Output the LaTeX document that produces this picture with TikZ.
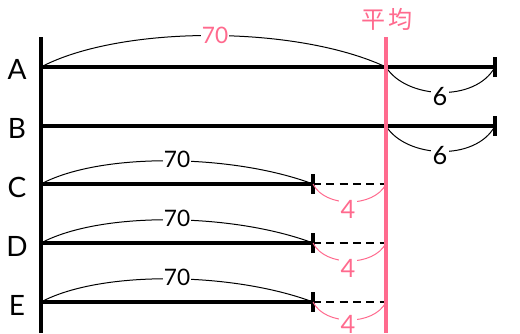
\documentclass[tikz,border=0pt]{standalone}
\usepackage{fontspec}
\setmainfont{Lato}
\newfontfamily\cjk{Noto Sans CJK JP}
\definecolor{avgpink}{HTML}{FF6A8E}
\begin{document}
\begin{tikzpicture}[x=0.75pt,y=-0.75pt,
  bar/.style={line width=2.4pt},
  thin/.style={line width=0.75pt},
  rowlabel/.style={font=\fontsize{21}{21}\selectfont},
  seventy/.style={fill=white,inner sep=1pt,font=\fontsize{17}{17}\selectfont},
  difflabel/.style={fill=white,inner sep=1pt,font=\fontsize{19}{19}\selectfont},
  tick/.style={line width=2.4pt}]
\useasboundingbox (0,0) rectangle (520,333);
% axis and average line
\coordinate (axtop) at (41,37);
\coordinate (axbot) at (41,333);
\coordinate (avtop) at (386,37);
\coordinate (avbot) at (386,333);
\draw[bar] (axtop) -- (axbot);
% row coordinates
\foreach \n/\y in {A/67,B/126,C/184,D/243,E/302}{
  \coordinate (s\n) at (41,\y);
  \coordinate (m\n) at (386,\y);
}
\coordinate (eA) at (495,67);
\coordinate (eB) at (495,126);
\coordinate (eC) at (313,184);
\coordinate (eD) at (313,243);
\coordinate (eE) at (313,302);
% row labels
\node[rowlabel] (lA) at (17,69) {A};
\node[rowlabel] (lB) at (17,128) {B};
\node[rowlabel] (lC) at (17,187) {C};
\node[rowlabel] (lD) at (17,246) {D};
\node[rowlabel] (lE) at (17,305) {E};
% bars A, B
\foreach \n in {A,B}{
  \draw[bar] (s\n) -- (e\n);
  \draw[tick] ([yshift=-7.5pt]e\n) -- ([yshift=7.5pt]e\n);
  \draw[thin] (m\n) .. controls +(20,32) and +(-20,36) .. (e\n);
}
% bars C, D, E
\foreach \n in {C,D,E}{
  \draw[bar] (s\n) -- (e\n);
  \draw[tick] ([yshift=-7.5pt]e\n) -- ([yshift=7.5pt]e\n);
  \draw[line width=2.2pt,dash pattern=on 6pt off 4pt] (e\n) -- (m\n);
  \draw[thin,avgpink] (e\n) .. controls +(12,24) and +(-12,24) .. (m\n);
  \draw[thin] (s\n) .. controls +(60,-32) and +(-80,-30) .. (e\n);
}
% arc for A (70)
\draw[thin] (sA) .. controls +(80,-42) and +(-90,-42) .. (mA);
% average line
\draw[line width=2.4pt,avgpink] (avtop) -- (avbot);
\node[text=avgpink,font=\cjk\fontsize{18}{18}\selectfont] (avg) at (387,19) {平\,均};
% 70 labels
\node[seventy,text=avgpink] (tA) at (215,35) {70};
\node[seventy] (tC) at (177,159) {70};
\node[seventy] (tD) at (177,218) {70};
\node[seventy] (tE) at (177,277) {70};
% 6 labels
\node[difflabel] (sixA) at (440,97) {6};
\node[difflabel] (sixB) at (440,156) {6};
% 4 labels
\node[difflabel,text=avgpink] (fourC) at (348,209) {4};
\node[difflabel,text=avgpink] (fourD) at (348,268) {4};
\node[difflabel,text=avgpink] (fourE) at (348,324) {4};
\end{tikzpicture}
\end{document}
